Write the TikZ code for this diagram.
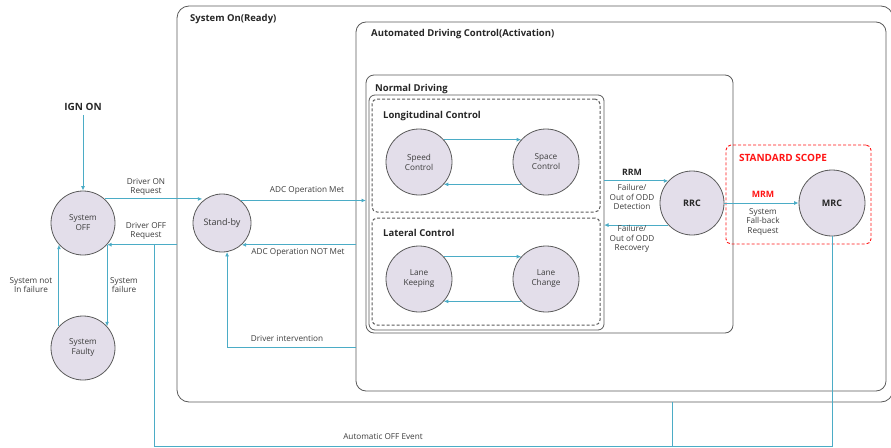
\documentclass[tikz,border=0pt]{standalone}
\usepackage{fontspec}
\setmainfont{Open Sans}
\usepackage{tikz}
\usetikzlibrary{arrows.meta,positioning,shapes}

\definecolor{flowblue}{RGB}{75,172,198}
\definecolor{statefill}{RGB}{227,222,234}
\definecolor{boxgray}{RGB}{90,90,90}
\definecolor{txtgray}{RGB}{60,60,60}
\definecolor{scopered}{RGB}{255,20,20}

\begin{document}
\begin{tikzpicture}[x=1pt,y=-1pt,
  state/.style={circle,draw=boxgray,fill=statefill,line width=0.8pt,minimum size=64pt,
    inner sep=0pt,align=center,font=\fontsize{8.2}{10}\selectfont,text=txtgray},
  box/.style={draw=boxgray,line width=0.8pt,rounded corners=10pt,inner sep=0pt,
    outer sep=0pt,anchor=north west},
  dbox/.style={box,dashed,line width=1pt,dash pattern=on 3pt off 2pt,rounded corners=5pt},
  title/.style={anchor=west,inner sep=0pt,font=\fontsize{9.5}{11}\selectfont\bfseries,text=black!85},
  lbl/.style={align=center,inner sep=0pt,font=\fontsize{8.2}{9.8}\selectfont,text=txtgray},
  flow/.style={draw=flowblue,line width=0.9pt,-{Latex[length=4.5pt,width=4pt]}},
  wire/.style={draw=flowblue,line width=0.9pt}]

  \useasboundingbox (0,0) rectangle (891,447);

  % nested state boxes
  \node[box,rounded corners=12pt,minimum width=716pt,minimum height=396pt] (syson) at (177,6) {};
  \node[box,minimum width=530pt,minimum height=369pt] (adc) at (356,22) {};
  \node[box,rounded corners=8pt,minimum width=367pt,minimum height=258pt] (normal) at (366,75) {};
  \node[box,rounded corners=6pt,minimum width=235pt,minimum height=235pt] (inner) at (369,95) {};
  \node[dbox,minimum width=228pt,minimum height=113pt] (lon) at (372,99) {};
  \node[dbox,minimum width=228pt,minimum height=107pt] (lat) at (372,218) {};
  \node[box,draw=scopered,densely dashed,line width=0.9pt,rounded corners=5pt,
    minimum width=145pt,minimum height=99pt] (scope) at (726,145) {};

  % box titles
  \node[title] (tson) at (190,19) {System On(Ready)};
  \node[title] (tadc) at (371,34) {Automated Driving Control(Activation)};
  \node[title] (tnormal) at (375,89) {Normal Driving};
  \node[title] (tlon) at (383,116) {Longitudinal Control};
  \node[title] (tlat) at (383,233) {Lateral Control};
  \node[title,anchor=center,font=\fontsize{10}{11}\selectfont\bfseries,text=scopered] (tscope) at (783,158) {STANDARD SCOPE};

  % states
  \node[state] (sysoff) at (83,223) {System\\OFF};
  \node[state] (sysfault) at (83,348) {System\\Faulty};
  \node[state,minimum size=58pt,font=\fontsize{9}{10}\selectfont] (standby) at (222,223) {Stand-by};
  \node[state,minimum size=66pt] (speed) at (419,162) {Speed\\Control};
  \node[state,minimum size=66pt] (space) at (546,162) {Space\\Control};
  \node[state,minimum size=66pt] (keep) at (419,279) {Lane\\Keeping};
  \node[state,minimum size=66pt] (change) at (546,279) {Lane\\Change};
  \node[state,font=\fontsize{9}{10}\selectfont\bfseries,text=black!85] (rrc) at (692,203) {RRC};
  \node[state,minimum size=66pt,font=\fontsize{9}{10}\selectfont\bfseries,text=black!85] (mrc) at (832,203) {MRC};

  % ignition
  \node[title,anchor=center,font=\fontsize{10}{11}\selectfont\bfseries] (ign) at (83,107) {IGN ON};
  \draw[flow] (ign.south) ++(0,4) -- (sysoff.north);

  % off <-> faulty
  \draw[flow] (sysoff.-42) -- (sysfault.42);
  \draw[flow] (sysfault.138) -- (sysoff.-138);
  \node[lbl] (lfail) at (124,285) {System\\failure};
  \node[lbl] (lnofail) at (31,285) {System not\\In failure};

  % off <-> stand-by
  \draw[flow] (sysoff.48) -- (sysoff.48 -| standby.132);
  \node[lbl] (lon1) at (146,187) {Driver ON\\Request};
  \draw[flow] (sysoff.-42 -| syson.west) -- (sysoff.-42);
  \node[lbl] (loff) at (146,231) {Driver OFF\\Request};

  % stand-by <-> automated driving
  \draw[flow] (standby.50) -- (standby.50 -| normal.west);
  \node[lbl] (lmet) at (307,190) {ADC Operation Met};
  \draw[flow] (standby.-48 -| adc.west) -- (standby.-48);
  \node[lbl] (lnotmet) at (298,252) {ADC Operation NOT Met};
  \coordinate (drvint) at (356,347);
  \draw[flow] (drvint) -| (standby.-80);
  \node[lbl] (ldrv) at (287,339) {Driver intervention};

  % normal driving modes
  \draw[flow] (speed.42) -- (speed.42 -| space.138);
  \draw[flow] (space.-138) -- (space.-138 -| speed.-42);
  \draw[flow] (keep.42) -- (keep.42 -| change.138);
  \draw[flow] (change.-138) -- (change.-138 -| keep.-42);

  % normal driving <-> RRC
  \draw[flow] (rrc.137 -| inner.east) -- (rrc.137);
  \node[lbl,font=\fontsize{8.8}{10}\selectfont\bfseries,text=black!85] (lrrm) at (632,172) {RRM};
  \node[lbl] (ldet) at (632,197) {Failure/\\Out of ODD\\Detection};
  \draw[flow] (rrc.-137) -- (rrc.-137 -| inner.east);
  \node[lbl] (lrec) at (632,239) {Failure/\\Out of ODD\\Recovery};

  % RRC -> MRC
  \draw[flow] (rrc.east) -- (mrc.west);
  \node[lbl,font=\fontsize{8.8}{10}\selectfont\bfseries,text=scopered] (lmrm) at (763,194) {MRM};
  \node[lbl] (lfb) at (763,222) {System\\Fall-back\\Request};

  % automatic off
  \coordinate (autooff) at (154,446);
  \coordinate (sonexit) at (672,402);
  \draw[wire] (mrc.south) |- (autooff) -- (autooff |- sysoff.-42);
  \draw[wire] (sonexit) -- (sonexit |- autooff);
  \node[lbl] (lauto) at (383,437) {Automatic OFF Event};
\end{tikzpicture}
\end{document}
